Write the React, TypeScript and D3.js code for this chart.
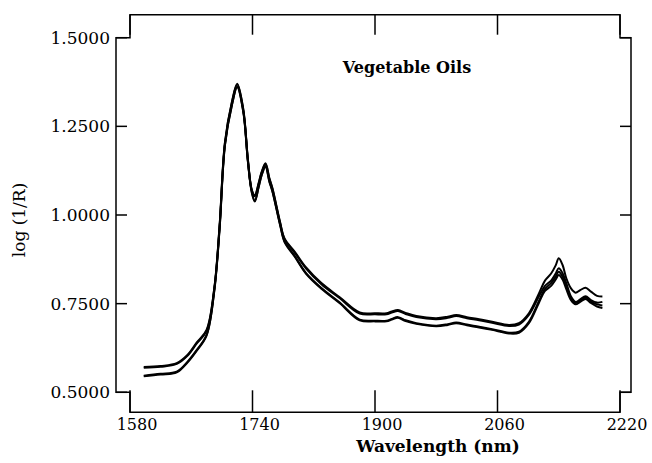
import * as d3 from "d3";

// wavelength grid (nm)
const wavelengths = [
  1598, 1620, 1641, 1655, 1667, 1680, 1690, 1697, 1704, 1713, 1720, 1728, 1734, 1739,
  1743, 1748, 1752, 1757, 1762, 1766, 1776, 1782, 1795, 1810, 1830, 1854, 1880, 1900,
  1915, 1922, 1930, 1940, 1954, 1980, 1995, 2006, 2020, 2036, 2053, 2075, 2088, 2101,
  2114, 2122, 2130, 2136, 2140, 2145, 2150, 2156, 2162, 2168, 2175, 2182, 2190, 2197,
];

// log(1/R) for each oil
const oilA = [
  0.571, 0.574, 0.582, 0.605, 0.640, 0.676, 0.792, 0.970, 1.205, 1.318, 1.370, 1.298, 1.157, 1.072,
  1.056, 1.090, 1.122, 1.146, 1.104, 1.076, 0.980, 0.933, 0.897, 0.852, 0.808, 0.768, 0.725, 0.723,
  0.723, 0.728, 0.732, 0.724, 0.715, 0.709, 0.713, 0.718, 0.712, 0.706, 0.699, 0.690, 0.695, 0.723,
  0.778, 0.815, 0.835, 0.858, 0.878, 0.859, 0.821, 0.793, 0.781, 0.788, 0.795, 0.784, 0.772, 0.770,
];
const oilB = [
  0.569, 0.572, 0.580, 0.603, 0.637, 0.673, 0.790, 0.968, 1.203, 1.316, 1.368, 1.296, 1.155, 1.070,
  1.053, 1.088, 1.120, 1.144, 1.102, 1.074, 0.978, 0.931, 0.894, 0.849, 0.805, 0.765, 0.722, 0.720,
  0.720, 0.725, 0.729, 0.721, 0.712, 0.706, 0.710, 0.715, 0.709, 0.703, 0.696, 0.687, 0.691, 0.718,
  0.770, 0.800, 0.815, 0.835, 0.850, 0.836, 0.807, 0.770, 0.755, 0.762, 0.771, 0.760, 0.753, 0.755,
];
const oilC = [
  0.547, 0.552, 0.558, 0.586, 0.619, 0.662, 0.786, 0.962, 1.198, 1.310, 1.362, 1.292, 1.152, 1.066,
  1.040, 1.080, 1.114, 1.138, 1.096, 1.068, 0.974, 0.925, 0.885, 0.836, 0.794, 0.753, 0.705, 0.702,
  0.702, 0.707, 0.712, 0.703, 0.695, 0.688, 0.692, 0.697, 0.691, 0.685, 0.678, 0.668, 0.671, 0.699,
  0.757, 0.792, 0.808, 0.826, 0.840, 0.826, 0.800, 0.765, 0.752, 0.758, 0.767, 0.756, 0.748, 0.745,
];
const oilD = [
  0.545, 0.550, 0.556, 0.584, 0.617, 0.660, 0.784, 0.960, 1.196, 1.308, 1.360, 1.290, 1.150, 1.064,
  1.038, 1.078, 1.112, 1.136, 1.094, 1.066, 0.972, 0.923, 0.883, 0.834, 0.792, 0.751, 0.703, 0.700,
  0.700, 0.705, 0.710, 0.701, 0.693, 0.686, 0.690, 0.695, 0.689, 0.683, 0.676, 0.666, 0.668, 0.695,
  0.752, 0.786, 0.800, 0.818, 0.831, 0.818, 0.790, 0.760, 0.748, 0.755, 0.763, 0.752, 0.742, 0.738,
];
const series = [oilA, oilB, oilC, oilD];

const xTicks = [1580, 1740, 1900, 2060, 2220];
const yTicks = [0.5, 0.75, 1.0, 1.25, 1.5];

const width = 652;
const height = 463;

export default function App() {
  const x = d3.scaleLinear().domain([1580, 2220]).range([130, 620]);
  const y = d3.scaleLinear().domain([0.5, 1.5]).range([392.3, 37.7]);

  const x0 = x(1580), x1 = x(2220);
  const y0 = y(1.5), y1 = y(0.5);
  // offset frame lines
  const left = x0 - 14, right = x1 + 11, top = y0 - 23, bottom = y1 + 20;

  const frame = [
    `M${left},${y0} L${left},${y1} L${x0},${y1} L${x0},${bottom}`,
    `L${x1},${bottom} L${x1},${y1} L${right},${y1} L${right},${y0}`,
    `L${x1},${y0} L${x1},${top} L${x0},${top} L${x0},${y0} Z`,
  ].join(" ");

  const line = d3
    .line<number>()
    .x((_, i) => x(wavelengths[i]))
    .y((d) => y(d))
    .curve(d3.curveCatmullRom.alpha(0.5));

  const font = "'DejaVu Serif', serif";

  return (
    <svg
      width={width}
      height={height}
      style={{ position: "absolute", left: 0, top: 0, background: "#fff" }}
    >
      <path d={frame} fill="none" stroke="#000" strokeWidth={1.5} />

      {/* y ticks, left and right */}
      {yTicks.map((t) => (
        <g key={"y" + t}>
          <line x1={left} x2={left + 11} y1={y(t)} y2={y(t)} stroke="#000" strokeWidth={1.5} />
          <line x1={right} x2={right - 11} y1={y(t)} y2={y(t)} stroke="#000" strokeWidth={1.5} />
          <text
            x={110}
            y={y(t)}
            dy="0.36em"
            textAnchor="end"
            fontFamily={font}
            fontSize={17}
            fill="#000"
          >
            {t.toFixed(4)}
          </text>
        </g>
      ))}

      {/* x ticks, bottom and top */}
      {xTicks.map((t) => (
        <g key={"x" + t}>
          <line x1={x(t)} x2={x(t)} y1={bottom} y2={bottom - 22} stroke="#000" strokeWidth={1.5} />
          <line x1={x(t)} x2={x(t)} y1={top} y2={top + 20} stroke="#000" strokeWidth={1.5} />
          <text
            x={x(t) + 7}
            y={430}
            textAnchor="middle"
            fontFamily={font}
            fontSize={16}
            fill="#000"
          >
            {t}
          </text>
        </g>
      ))}

      {series.map((s, i) => (
        <path
          key={i}
          d={line(s) ?? ""}
          fill="none"
          stroke="#000"
          strokeWidth={2}
          strokeLinejoin="round"
        />
      ))}

      <text
        x={407}
        y={73}
        textAnchor="middle"
        fontFamily={font}
        fontWeight="bold"
        fontSize={16}
        fill="#000"
      >
        Vegetable Oils
      </text>

      <text
        x={438}
        y={452}
        textAnchor="middle"
        fontFamily={font}
        fontWeight="bold"
        fontSize={17}
        fill="#000"
      >
        Wavelength (nm)
      </text>

      <text
        transform="translate(25,220) rotate(-90)"
        textAnchor="middle"
        fontFamily={font}
        fontSize={17}
        fill="#000"
      >
        log (1/R)
      </text>
    </svg>
  );
}
